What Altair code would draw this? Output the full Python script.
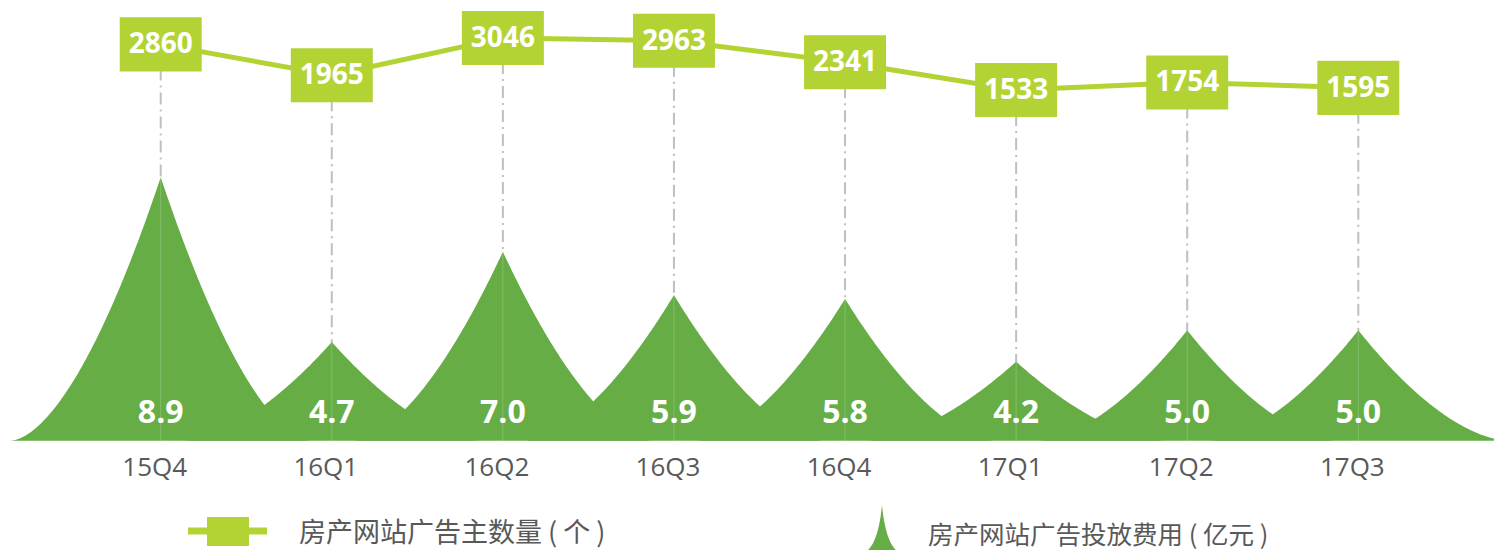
import altair as alt
import pandas as pd
import numpy as np

# ---- data ----
quarters = ["15Q4", "16Q1", "16Q2", "16Q3", "16Q4", "17Q1", "17Q2", "17Q3"]
advertisers = [2860, 1965, 3046, 2963, 2341, 1533, 1754, 1595]
spend = [8.9, 4.7, 7.0, 5.9, 5.8, 4.2, 5.0, 5.0]
legend_labels = ["房产网站广告主数量 ( 个 )", "房产网站广告投放费用 ( 亿元 )"]

# ---- styles ----
LIME = "#B3D335"
GREEN = "#66AD46"
GRAY = "#595959"
DASH = "#BFBFBF"
SPIKE_BASE = 2.186      # value at the bottom of the spike scale
HALF_W = 0.877          # spike half width, in category steps
POW = 1.7               # concavity of spike flanks

base_df = pd.DataFrame({"i": list(range(len(quarters))), "q": quarters,
                        "n": advertisers, "v": spend})

# spike outlines (shape geometry built on top of each value)
rows = []
for i, (q, v) in enumerate(zip(quarters, spend)):
    for u in np.linspace(-1, 1, 201):
        rows.append({"q": q, "x": i + u * HALF_W,
                     "y": SPIKE_BASE + (v - SPIKE_BASE) * (1 - abs(u)) ** POW,
                     "y0": SPIKE_BASE})
spike_df = pd.DataFrame(rows)

xs = alt.Scale(domain=[0, len(quarters) - 1], range=[160.7, 1358.3], nice=False, zero=False)
ys_spend = alt.Scale(domain=[SPIKE_BASE, max(spend)], range=[440.7, 177.3], nice=False, zero=False)
ys_count = alt.Scale(domain=[min(advertisers), max(advertisers)], range=[90, 38], nice=False, zero=False)

X = alt.X("i:Q", scale=xs, axis=None)

rules = alt.Chart(base_df).mark_rule(color=DASH, strokeWidth=2, strokeDash=[12, 5, 2, 5]).encode(
    x=X, y=alt.Y("n:Q", scale=ys_count, axis=None), y2=alt.value(440))

spikes = alt.Chart(spike_df).mark_area(color=GREEN, opacity=1, interpolate="linear").encode(
    x=alt.X("x:Q", scale=xs, axis=None),
    y=alt.Y("y:Q", scale=ys_spend, axis=None),
    y2="y0:Q",
    detail="q:N")

inner = alt.Chart(base_df).mark_rule(color="#FFFFFF", opacity=0.2, strokeWidth=1).encode(
    x=X, y=alt.Y("v:Q", scale=ys_spend, axis=None), y2=alt.value(440.7))

value_labels = alt.Chart(base_df).mark_text(
    font="Open Sans", fontWeight="bold", fontSize=32, color="#FFFFFF", baseline="alphabetic").encode(
    x=X, y=alt.value(423), text=alt.Text("v:Q", format=".1f"))

x_labels = alt.Chart(base_df).mark_text(
    font="Open Sans", fontSize=26, color=GRAY, baseline="alphabetic", dx=-6).encode(
    x=X, y=alt.value(475.5), text="q:N")

line = alt.Chart(base_df).mark_line(color=LIME, strokeWidth=5).encode(
    x=X, y=alt.Y("n:Q", scale=ys_count, axis=None))

RECT = "M-1,-0.659 L1,-0.659 L1,0.659 L-1,0.659 Z"
boxes = alt.Chart(base_df).mark_point(shape=RECT, filled=True, size=82 * 82, color=LIME, opacity=1).encode(
    x=X, y=alt.Y("n:Q", scale=ys_count, axis=None))

box_text = alt.Chart(base_df).mark_text(
    font="Open Sans", fontWeight="bold", fontSize=28, color="#FFFFFF", baseline="middle", dy=1).encode(
    x=X, y=alt.Y("n:Q", scale=ys_count, axis=None), text=alt.Text("n:Q", format="d"))

# ---- legend ----
one = pd.DataFrame({"k": [0]})
leg_line = alt.Chart(one).mark_rule(color=LIME, strokeWidth=7).encode(
    x=alt.value(188), x2=alt.value(267), y=alt.value(531))
RECT2 = "M-1,-0.69 L1,-0.69 L1,0.69 L-1,0.69 Z"
leg_box = alt.Chart(one).mark_point(shape=RECT2, filled=True, size=42 * 42, color=LIME, opacity=1).encode(
    x=alt.value(228), y=alt.value(531.5))
leg_text1 = alt.Chart(pd.DataFrame({"t": [legend_labels[0]]})).mark_text(
    font="Noto Sans CJK SC", fontSize=27, color=GRAY, align="left", baseline="middle").encode(
    x=alt.value(299), y=alt.value(534), text="t:N")
SPIKE = "M-1,1 C-0.45,1 -0.12,0.3 0,-1 C0.12,0.3 0.45,1 1,1 Z"
leg_spike = alt.Chart(one).mark_point(shape=SPIKE, filled=True, size=50 * 50, color=GREEN, opacity=1).encode(
    x=alt.value(882), y=alt.value(530))
leg_text2 = alt.Chart(pd.DataFrame({"t": [legend_labels[1]]})).mark_text(
    font="Noto Sans CJK SC", fontSize=25.5, color=GRAY, align="left", baseline="middle").encode(
    x=alt.value(928), y=alt.value(535.5), text="t:N")

chart = alt.layer(
    rules, spikes, inner, value_labels, x_labels, line, boxes, box_text,
    leg_line, leg_box, leg_text1, leg_spike, leg_text2
).resolve_scale(y="independent").properties(
    width=1494, height=550,
    autosize=alt.AutoSizeParams(type="none"),
    padding=0,
    background="#FFFFFF"
).configure_view(strokeWidth=0)

chart.save("out.html", embed_options={"renderer": "svg", "actions": False})
